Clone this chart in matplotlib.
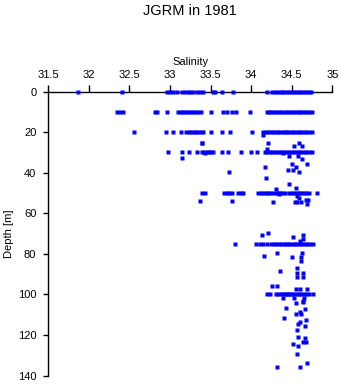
import matplotlib
matplotlib.use("Agg")
import matplotlib.pyplot as plt

plt.rcParams['font.family'] = ['Liberation Sans', 'DejaVu Sans']

title = "JGRM in 1981"
x_label = "Salinity"
y_label = "Depth [m]"
x_ticks = [31.5, 32, 32.5, 33, 33.5, 34, 34.5, 35]
x_ticklabels = ["31.5", "32", "32.5", "33", "33.5", "34", "34.5", "35"]
y_ticks = [0, 20, 40, 60, 80, 100, 120, 140]

# salinity values at the standard depths
sal_0 = [31.87, 32.41, 32.96, 33.00, 33.04, 33.09, 33.15, 33.19, 33.22, 33.25, 33.28,
         33.33, 33.37, 33.41, 33.53, 33.56, 33.64, 33.78, 34.20,
         34.26, 34.29, 34.32, 34.35, 34.38, 34.41, 34.44, 34.47, 34.50, 34.53,
         34.56, 34.59, 34.62, 34.65, 34.68, 34.71, 34.74]
sal_10 = [32.35, 32.38, 32.42, 32.82, 32.84, 32.96, 33.10, 33.13, 33.16, 33.19, 33.22,
          33.25, 33.28, 33.31, 33.35, 33.38, 33.51, 33.65, 33.70, 33.76, 33.81, 33.99,
          34.19, 34.22, 34.25, 34.28, 34.31, 34.34, 34.37, 34.40, 34.44, 34.47,
          34.50, 34.53, 34.56, 34.59, 34.62, 34.65, 34.68, 34.71, 34.75]
sal_20 = [32.55, 32.95, 33.04, 33.14, 33.20, 33.23, 33.26, 33.29, 33.32, 33.35, 33.38,
          33.41, 33.50, 33.64, 33.74, 34.01, 34.15, 34.18, 34.21, 34.24, 34.27, 34.30,
          34.33, 34.36, 34.39, 34.42, 34.44, 34.47, 34.50, 34.53, 34.56, 34.59,
          34.62, 34.65, 34.68, 34.71, 34.75]
sal_30 = [32.98, 33.15, 33.24, 33.33, 33.39, 33.42, 33.45, 33.48, 33.50, 33.53, 33.64,
          33.72, 33.88, 34.00, 34.07, 34.17, 34.20, 34.23, 34.26, 34.29, 34.32, 34.35,
          34.38, 34.41, 34.44, 34.47, 34.50, 34.53, 34.56, 34.59, 34.62, 34.65,
          34.68, 34.71, 34.75]
sal_50 = [33.39, 33.43, 33.67, 33.70, 33.73, 33.76, 33.84, 33.87, 33.90, 34.08, 34.12,
          34.15, 34.18, 34.21, 34.23, 34.27, 34.30, 34.33, 34.36, 34.38, 34.42, 34.47,
          34.50, 34.53, 34.56, 34.59, 34.62, 34.65, 34.68, 34.71, 34.81]
sal_75 = [33.80, 34.06, 34.11, 34.15, 34.19, 34.25, 34.28, 34.31, 34.34, 34.37, 34.40,
          34.43, 34.46, 34.48, 34.51, 34.54, 34.57, 34.60, 34.63, 34.66, 34.69,
          34.73, 34.76]
sal_100 = [34.19, 34.23, 34.30, 34.33, 34.37, 34.39, 34.42, 34.44, 34.46, 34.48, 34.50,
           34.53, 34.56, 34.59, 34.62, 34.65, 34.68, 34.71, 34.76]

std_depths = [0, 10, 20, 30, 50, 75, 100]

# other bottle samples (salinity, depth)
extra_sal = [33.40, 34.15, 33.40, 34.21, 34.20, 34.53, 34.59, 34.63, 33.43, 34.39,
             33.15, 34.47, 34.58, 34.63, 34.17, 34.50, 34.55, 34.69, 34.45, 34.51,
             34.59, 33.73, 34.18, 34.47, 34.55, 34.31, 34.34,
             33.37, 33.77, 34.27, 34.57, 34.59, 34.54, 34.57, 34.62, 34.67, 34.70, 34.69,
             34.13, 34.21, 34.51, 34.64, 34.64, 34.60,
             34.16, 34.32, 34.50, 34.61, 34.63, 34.62, 34.35, 34.57, 34.57, 34.64,
             34.57, 34.64, 34.26, 34.32, 34.55, 34.60, 34.69,
             34.39, 34.53, 34.65, 34.64, 34.55, 34.64, 34.43, 34.66, 34.60, 34.55,
             34.62, 34.41, 34.67, 34.60, 34.58, 34.66, 34.56, 34.58, 34.66, 34.64,
             34.68, 34.52, 34.58, 34.57, 34.69, 34.32, 34.60]
extra_depth = [25.5, 21.4, 25.5, 25.5, 28.3, 26.7, 25.5, 26.8, 30.5, 30.5,
               32.8, 31.6, 31.6, 33.2, 37.3, 35.7, 37.3, 35.7, 38.7, 38.7,
               39.8, 39.8, 42.8, 45.6, 47.7, 48.2, 50.6,
               53.8, 53.8, 54.6, 51.5, 52.6, 54.6, 54.6, 54.6, 53.4, 53.4, 55.6,
               70.7, 69.9, 71.8, 70.7, 72.8, 73.6,
               80.9, 79.7, 81.7, 81.7, 79.7, 83.5, 88.6, 86.8, 89.6, 89.6,
               91.5, 91.5, 95.7, 95.7, 97.6, 97.6, 97.6,
               101.6, 101.6, 101.6, 103.2, 104.5, 103.9, 106.5, 107.1, 108.8, 109.8,
               109.8, 111.7, 112.6, 113.7, 114.5, 115.4, 117.5, 120.8, 121.6, 123.5,
               123.5, 124.5, 125.7, 129.5, 133.6, 135.7, 135.7]

fig = plt.figure(figsize=(3.41, 3.84), dpi=100)
ax = fig.add_axes([48.3 / 341, 1 - 375.5 / 384, (332.3 - 48.3) / 341, (375.5 - 91.5) / 384])

groups = [sal_0, sal_10, sal_20, sal_30, sal_50, sal_75, sal_100]
for d, sals in zip(std_depths, groups):
    ax.plot(sals, [d] * len(sals), ls='none', marker='s', ms=2.4, mec='none',
            color='#0000ff', clip_on=False, zorder=3)
ax.plot(extra_sal, extra_depth, ls='none', marker='s', ms=2.4, mec='none',
        color='#0000ff', clip_on=False, zorder=3)

ax.set_xlim(31.5, 35)
ax.set_ylim(140, 0)
ax.spines['right'].set_visible(False)
ax.spines['bottom'].set_visible(False)
for s in ('top', 'left'):
    ax.spines[s].set_linewidth(1.0)
ax.xaxis.tick_top()
ax.xaxis.set_label_position('top')
ax.set_xticks(x_ticks)
ax.set_xticklabels(x_ticklabels)
ax.set_yticks(y_ticks)
ax.tick_params(axis='x', direction='out', length=5, width=1.0, pad=3, labelsize=8)
ax.tick_params(axis='y', direction='out', length=3.6, width=1.0, pad=5, labelsize=8)
ax.set_xlabel(x_label, fontsize=8, labelpad=4)
ax.set_ylabel(y_label, fontsize=8, labelpad=3)
fig.text(190.3 / 341, 1 - 11 / 384, title, ha='center', va='center', fontsize=10.5)

fig.savefig("out.png", dpi=100)
